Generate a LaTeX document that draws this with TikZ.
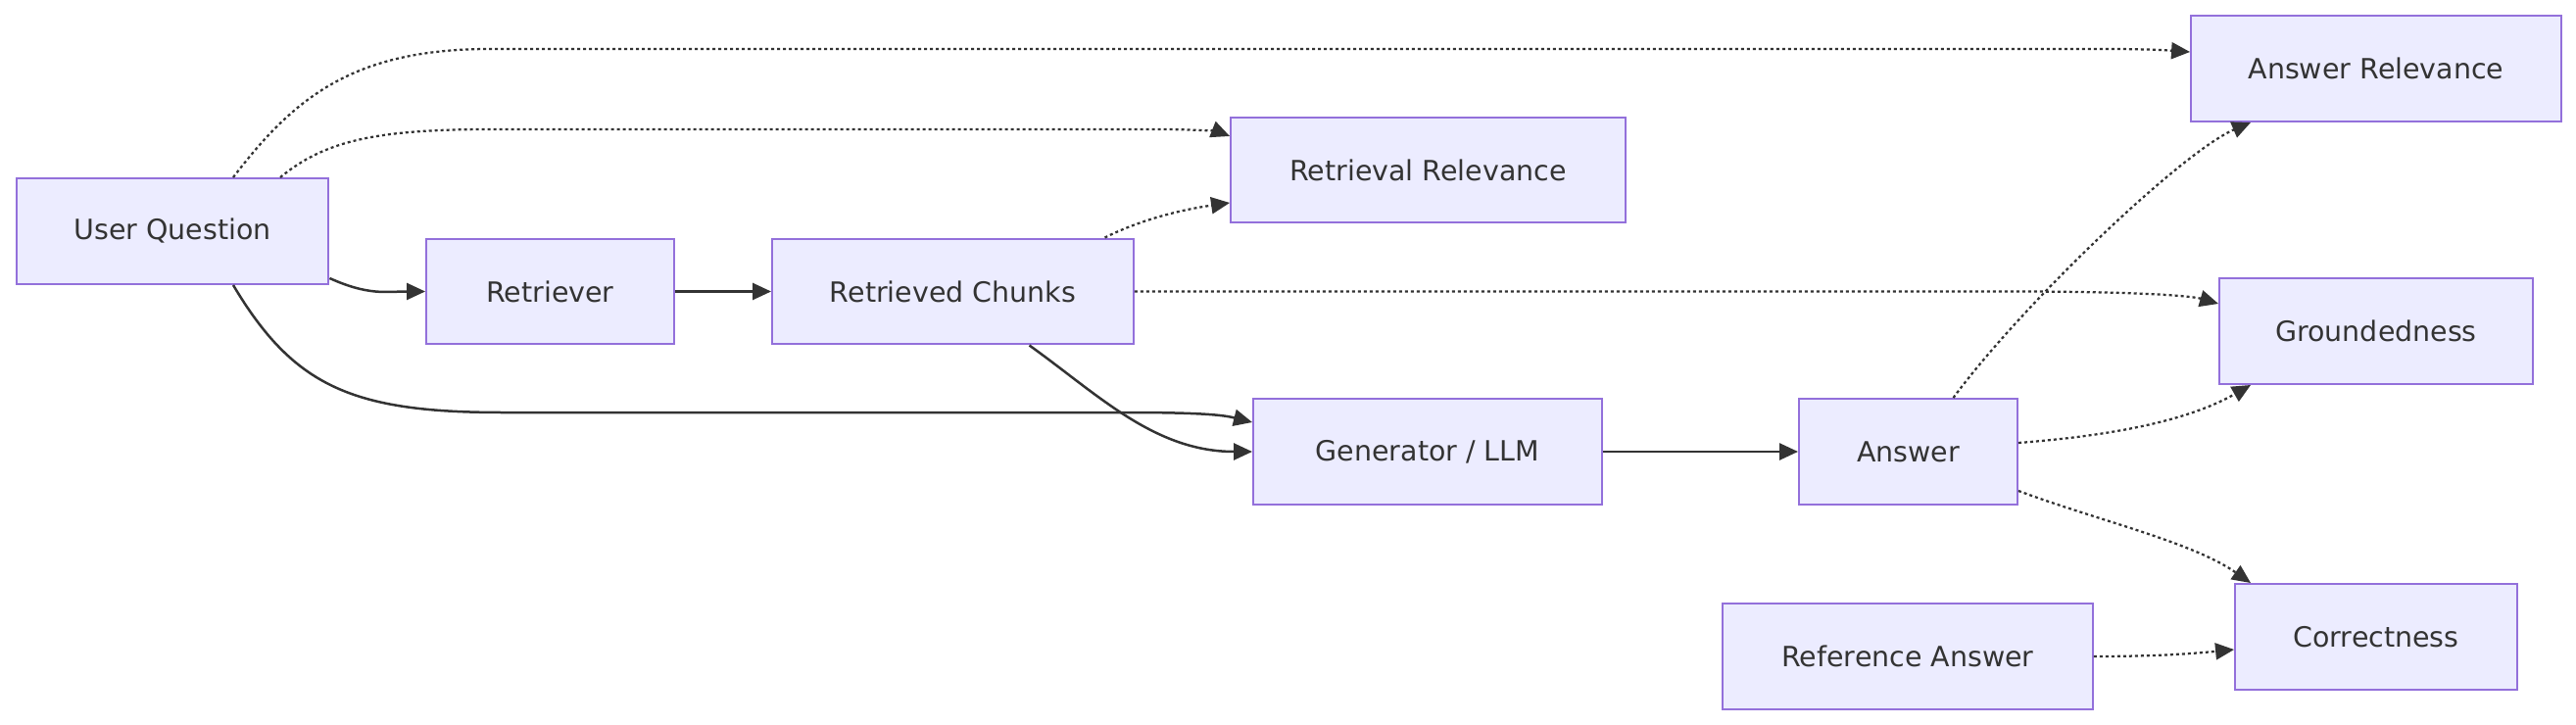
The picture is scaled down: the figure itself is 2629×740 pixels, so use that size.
\documentclass[tikz,border=0pt]{standalone}
\usepackage{fontspec}
\setmainfont{DejaVu Sans}
\usetikzlibrary{arrows.meta,calc}
\definecolor{boxfill}{HTML}{ECECFF}
\definecolor{boxline}{HTML}{9370DB}
\definecolor{edgecol}{HTML}{333333}
\begin{document}
\begin{tikzpicture}[x=0.02cm, y=-0.02cm, >={Triangle[length=0.38cm,width=0.34cm]},
        every node/.style={font=\fontsize{16.2}{19}\selectfont, text=edgecol},
        box/.style={draw=boxline, fill=boxfill, line width=0.04cm, minimum height=2.16cm, inner sep=0pt},
        flow/.style={->, draw=edgecol, line width=0.05cm},
        check/.style={->, draw=edgecol, line width=0.045cm, dash pattern=on 0.06cm off 0.06cm}]
        \useasboundingbox (0,0) rectangle (2629,740);
        \node[box, minimum width=6.38cm] (question)  at (176,236)    {User Question};
        \node[box, minimum width=5.06cm] (retriever) at (561.5,297.5) {Retriever};
        \node[box, minimum width=7.38cm] (chunks)    at (972.5,297.5) {Retrieved Chunks};
        \node[box, minimum width=8.06cm] (retrel)    at (1457.5,173.5) {Retrieval Relevance};
        \node[box, minimum width=7.12cm] (generator) at (1457,461)   {Generator / LLM};
        \node[box, minimum width=4.46cm] (answer)    at (1947.5,461) {Answer};
        \node[box, minimum width=7.56cm] (answerrel) at (2425,70)    {Answer Relevance};
        \node[box, minimum width=6.40cm] (ground)    at (2425,338)   {Groundedness};
        \node[box, minimum width=5.76cm] (correct)   at (2425,650)   {Correctness};
        \node[box, minimum width=7.56cm] (refans)    at (1947,670)   {Reference Answer};
        \draw[flow] ($(question.south east)+(0,-7)$) .. controls +(40,18) and +(-40,0) .. (retriever.west);
        \draw[flow] (retriever) -- (chunks);
        \draw[flow] ($(question.south)+(62,0)$) .. controls (300,395) and (360,421) .. (514,421) -- (1150,421)
            .. controls (1230,421) and (1250,424) .. ($(generator.west)+(0,-30)$);
        \draw[flow] ($(chunks.south)+(78,0)$) .. controls +(70,50) and +(-100,0) .. (generator.west);
        \draw[flow] (generator) -- (answer);
        \draw[check] ($(question.north)+(62,0)$) .. controls (300,100) and (360,50) .. (500,50) -- (2150,50)
            .. controls (2200,50) and (2220,52) .. ($(answerrel.west)+(0,-17)$);
        \draw[check] ($(question.north)+(110,0)$) .. controls (330,145) and (380,132) .. (500,132) -- (1180,132)
            .. controls (1230,132) and (1245,135) .. ($(retrel.west)+(0,-34.5)$);
        \draw[check] ($(chunks.north)+(155,0)$) .. controls +(32,-16) and +(-56,8) .. ($(retrel.west)+(0,33.5)$);
        \draw[check] (chunks.east) -- (2050,297.5) .. controls (2200,297.5) and (2240,303) .. ($(ground.west)+(0,-28)$);
        \draw[check] ($(answer.north)+(46,0)$) .. controls +(70,-95) and +(-70,30) .. ($(answerrel.south)+(-128,0)$);
        \draw[check] ($(answer.east)+(0,-9)$) .. controls +(90,-7) and +(-67,38) .. ($(ground.south)+(-128,0)$);
        \draw[check] ($(answer.east)+(0,40)$) .. controls +(80,30) and +(-60,-42) .. ($(correct.north)+(-128,0)$);
        \draw[check] (refans.east) .. controls +(64,0) and +(-41,4) .. ($(correct.west)+(0,13)$);
    \end{tikzpicture}
\end{document}
